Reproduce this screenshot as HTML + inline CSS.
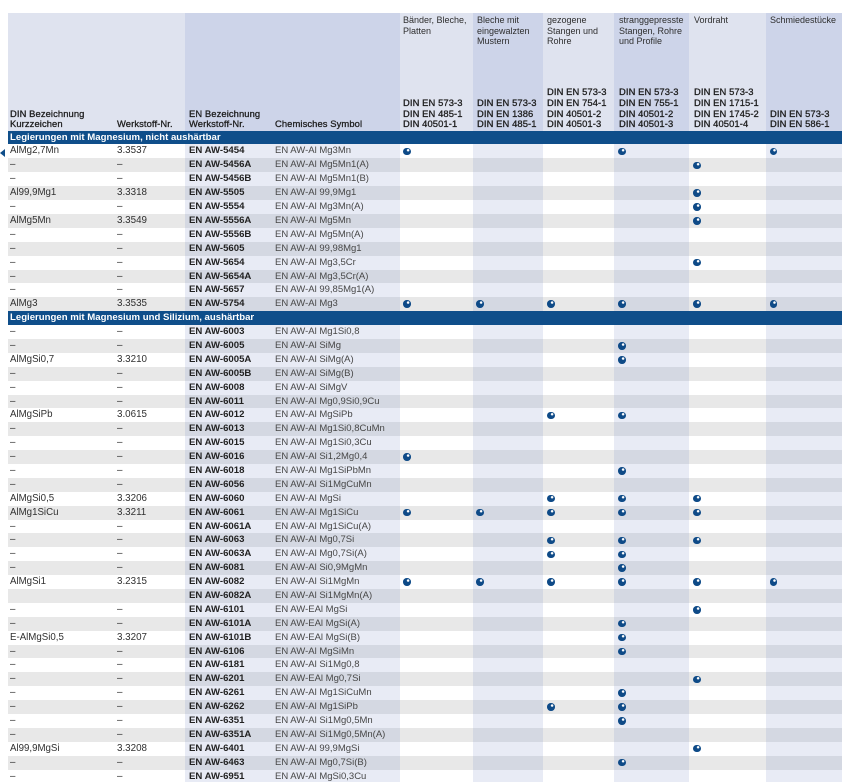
<!DOCTYPE html>
<html><head><meta charset="utf-8">
<style>
*{margin:0;padding:0;box-sizing:border-box}
html,body{width:853px;height:782px;overflow:hidden;background:#fff}
body{position:relative;font-family:"Liberation Sans",Arial,sans-serif;color:#333}
.hdr{position:absolute;left:8px;top:13px;width:834px;height:117.8px;
background:linear-gradient(to right,#dfe3ef 0 177px,#cdd4e9 177px 392px,#dfe3ef 392px 465px,#cdd4e9 465px 535px,#dfe3ef 535px 606px,#cdd4e9 606px 681px,#dfe3ef 681px 758px,#cdd4e9 758px)}
.hd{position:absolute;bottom:651.9px;font-size:9.4px;line-height:10.7px;color:#1e1e1e;-webkit-text-stroke:0.3px #1e1e1e;white-space:nowrap;letter-spacing:0.1px}
.ht{position:absolute;top:15px;font-size:9px;line-height:10.7px;color:#2e2e2e;white-space:nowrap}
.body{position:absolute;left:8px;top:130.8px;width:834px}
.s{height:13.9px;background:#0f4e8a;color:#fff;font-weight:bold;font-size:9.6px;line-height:13.9px;padding-left:2px;white-space:nowrap}
.s1{height:13.7px;line-height:13.7px}
.r{position:relative;height:13.9px}
.w{background:linear-gradient(to right,#fff 0 177px,#e8ebf5 177px 392px,#fff 392px 465px,#e8ebf5 465px 535px,#fff 535px 606px,#e8ebf5 606px 681px,#fff 681px 758px,#e8ebf5 758px)}
.g{background:linear-gradient(to right,#e8e8e8 0 177px,#d4d8e2 177px 392px,#e8e8e8 392px 465px,#d4d8e2 465px 535px,#e8e8e8 535px 606px,#d4d8e2 606px 681px,#e8e8e8 681px 758px,#d4d8e2 758px)}
.r i,.r b{position:absolute;top:0;line-height:13.9px;font-style:normal;white-space:nowrap}
.a{left:2px;font-size:9.7px;color:#303030}
.b{left:109px;font-size:9.8px;color:#303030}
.r b{left:181px;font-size:9.6px;color:#222;font-weight:bold}
.c{left:267px;font-size:9.5px;color:#474747}
.r u{position:absolute;top:3.2px;width:7.5px;height:7.5px;border-radius:50%;
background:radial-gradient(circle at 64% 32%,#ffffff 0 0.9px,#0e4a87 1.6px)}
.d1{left:395px}.d2{left:468.3px}.d3{left:539.3px}.d4{left:610.3px}.d5{left:685.3px}.d6{left:761.6px}
.arr{position:absolute;left:0;top:149px;width:0;height:0;border-right:5px solid #0f4e8a;border-top:4px solid transparent;border-bottom:4px solid transparent}
</style></head>
<body>
<div class="hdr"></div>
<div class="hd" style="left:10px">DIN Bezeichnung<br>Kurzzeichen</div>
<div class="hd" style="left:117px">Werkstoff-Nr.</div>
<div class="hd" style="left:189px">EN Bezeichnung<br>Werkstoff-Nr.</div>
<div class="hd" style="left:275px">Chemisches Symbol</div>

<div class="ht" style="left:403px">Bänder, Bleche,<br>Platten</div>
<div class="ht" style="left:477px">Bleche mit<br>eingewalzten<br>Mustern</div>
<div class="ht" style="left:547px">gezogene<br>Stangen und<br>Rohre</div>
<div class="ht" style="left:619px">stranggepresste<br>Stangen, Rohre<br>und Profile</div>
<div class="ht" style="left:694px">Vordraht</div>
<div class="ht" style="left:770px">Schmiedestücke</div>

<div class="hd" style="left:403px">DIN EN 573-3<br>DIN EN 485-1<br>DIN 40501-1</div>
<div class="hd" style="left:477px">DIN EN 573-3<br>DIN EN 1386<br>DIN EN 485-1</div>
<div class="hd" style="left:547px">DIN EN 573-3<br>DIN EN 754-1<br>DIN 40501-2<br>DIN 40501-3</div>
<div class="hd" style="left:619px">DIN EN 573-3<br>DIN EN 755-1<br>DIN 40501-2<br>DIN 40501-3</div>
<div class="hd" style="left:694px">DIN EN 573-3<br>DIN EN 1715-1<br>DIN EN 1745-2<br>DIN 40501-4</div>
<div class="hd" style="left:770px">DIN EN 573-3<br>DIN EN 586-1</div>

<div class="arr"></div>

<div class="body">
<div class="s s1">Legierungen mit Magnesium, nicht aushärtbar</div>
<div class="r w"><i class="a">AlMg2,7Mn</i><i class="b">3.3537</i><b>EN AW-5454</b><i class="c">EN AW-Al Mg3Mn</i><u class="d1"></u><u class="d4"></u><u class="d6"></u></div>
<div class="r g"><i class="a">–</i><i class="b">–</i><b>EN AW-5456A</b><i class="c">EN AW-Al Mg5Mn1(A)</i><u class="d5"></u></div>
<div class="r w"><i class="a">–</i><i class="b">–</i><b>EN AW-5456B</b><i class="c">EN AW-Al Mg5Mn1(B)</i></div>
<div class="r g"><i class="a">Al99,9Mg1</i><i class="b">3.3318</i><b>EN AW-5505</b><i class="c">EN AW-Al 99,9Mg1</i><u class="d5"></u></div>
<div class="r w"><i class="a">–</i><i class="b">–</i><b>EN AW-5554</b><i class="c">EN AW-Al Mg3Mn(A)</i><u class="d5"></u></div>
<div class="r g"><i class="a">AlMg5Mn</i><i class="b">3.3549</i><b>EN AW-5556A</b><i class="c">EN AW-Al Mg5Mn</i><u class="d5"></u></div>
<div class="r w"><i class="a">–</i><i class="b">–</i><b>EN AW-5556B</b><i class="c">EN AW-Al Mg5Mn(A)</i></div>
<div class="r g"><i class="a">–</i><i class="b">–</i><b>EN AW-5605</b><i class="c">EN AW-Al 99,98Mg1</i></div>
<div class="r w"><i class="a">–</i><i class="b">–</i><b>EN AW-5654</b><i class="c">EN AW-Al Mg3,5Cr</i><u class="d5"></u></div>
<div class="r g"><i class="a">–</i><i class="b">–</i><b>EN AW-5654A</b><i class="c">EN AW-Al Mg3,5Cr(A)</i></div>
<div class="r w"><i class="a">–</i><i class="b">–</i><b>EN AW-5657</b><i class="c">EN AW-Al 99,85Mg1(A)</i></div>
<div class="r g"><i class="a">AlMg3</i><i class="b">3.3535</i><b>EN AW-5754</b><i class="c">EN AW-Al Mg3</i><u class="d1"></u><u class="d2"></u><u class="d3"></u><u class="d4"></u><u class="d5"></u><u class="d6"></u></div>
<div class="s">Legierungen mit Magnesium und Silizium, aushärtbar</div>
<div class="r w"><i class="a">–</i><i class="b">–</i><b>EN AW-6003</b><i class="c">EN AW-Al Mg1Si0,8</i></div>
<div class="r g"><i class="a">–</i><i class="b">–</i><b>EN AW-6005</b><i class="c">EN AW-Al SiMg</i><u class="d4"></u></div>
<div class="r w"><i class="a">AlMgSi0,7</i><i class="b">3.3210</i><b>EN AW-6005A</b><i class="c">EN AW-Al SiMg(A)</i><u class="d4"></u></div>
<div class="r g"><i class="a">–</i><i class="b">–</i><b>EN AW-6005B</b><i class="c">EN AW-Al SiMg(B)</i></div>
<div class="r w"><i class="a">–</i><i class="b">–</i><b>EN AW-6008</b><i class="c">EN AW-Al SiMgV</i></div>
<div class="r g"><i class="a">–</i><i class="b">–</i><b>EN AW-6011</b><i class="c">EN AW-Al Mg0,9Si0,9Cu</i></div>
<div class="r w"><i class="a">AlMgSiPb</i><i class="b">3.0615</i><b>EN AW-6012</b><i class="c">EN AW-Al MgSiPb</i><u class="d3"></u><u class="d4"></u></div>
<div class="r g"><i class="a">–</i><i class="b">–</i><b>EN AW-6013</b><i class="c">EN AW-Al Mg1Si0,8CuMn</i></div>
<div class="r w"><i class="a">–</i><i class="b">–</i><b>EN AW-6015</b><i class="c">EN AW-Al Mg1Si0,3Cu</i></div>
<div class="r g"><i class="a">–</i><i class="b">–</i><b>EN AW-6016</b><i class="c">EN AW-Al Si1,2Mg0,4</i><u class="d1"></u></div>
<div class="r w"><i class="a">–</i><i class="b">–</i><b>EN AW-6018</b><i class="c">EN AW-Al Mg1SiPbMn</i><u class="d4"></u></div>
<div class="r g"><i class="a">–</i><i class="b">–</i><b>EN AW-6056</b><i class="c">EN AW-Al Si1MgCuMn</i></div>
<div class="r w"><i class="a">AlMgSi0,5</i><i class="b">3.3206</i><b>EN AW-6060</b><i class="c">EN AW-Al MgSi</i><u class="d3"></u><u class="d4"></u><u class="d5"></u></div>
<div class="r g"><i class="a">AlMg1SiCu</i><i class="b">3.3211</i><b>EN AW-6061</b><i class="c">EN AW-Al Mg1SiCu</i><u class="d1"></u><u class="d2"></u><u class="d3"></u><u class="d4"></u><u class="d5"></u></div>
<div class="r w"><i class="a">–</i><i class="b">–</i><b>EN AW-6061A</b><i class="c">EN AW-Al Mg1SiCu(A)</i></div>
<div class="r g"><i class="a">–</i><i class="b">–</i><b>EN AW-6063</b><i class="c">EN AW-Al Mg0,7Si</i><u class="d3"></u><u class="d4"></u><u class="d5"></u></div>
<div class="r w"><i class="a">–</i><i class="b">–</i><b>EN AW-6063A</b><i class="c">EN AW-Al Mg0,7Si(A)</i><u class="d3"></u><u class="d4"></u></div>
<div class="r g"><i class="a">–</i><i class="b">–</i><b>EN AW-6081</b><i class="c">EN AW-Al Si0,9MgMn</i><u class="d4"></u></div>
<div class="r w"><i class="a">AlMgSi1</i><i class="b">3.2315</i><b>EN AW-6082</b><i class="c">EN AW-Al Si1MgMn</i><u class="d1"></u><u class="d2"></u><u class="d3"></u><u class="d4"></u><u class="d5"></u><u class="d6"></u></div>
<div class="r g"><b>EN AW-6082A</b><i class="c">EN AW-Al Si1MgMn(A)</i></div>
<div class="r w"><i class="a">–</i><i class="b">–</i><b>EN AW-6101</b><i class="c">EN AW-EAl MgSi</i><u class="d5"></u></div>
<div class="r g"><i class="a">–</i><i class="b">–</i><b>EN AW-6101A</b><i class="c">EN AW-EAl MgSi(A)</i><u class="d4"></u></div>
<div class="r w"><i class="a">E-AlMgSi0,5</i><i class="b">3.3207</i><b>EN AW-6101B</b><i class="c">EN AW-EAl MgSi(B)</i><u class="d4"></u></div>
<div class="r g"><i class="a">–</i><i class="b">–</i><b>EN AW-6106</b><i class="c">EN AW-Al MgSiMn</i><u class="d4"></u></div>
<div class="r w"><i class="a">–</i><i class="b">–</i><b>EN AW-6181</b><i class="c">EN AW-Al Si1Mg0,8</i></div>
<div class="r g"><i class="a">–</i><i class="b">–</i><b>EN AW-6201</b><i class="c">EN AW-EAl Mg0,7Si</i><u class="d5"></u></div>
<div class="r w"><i class="a">–</i><i class="b">–</i><b>EN AW-6261</b><i class="c">EN AW-Al Mg1SiCuMn</i><u class="d4"></u></div>
<div class="r g"><i class="a">–</i><i class="b">–</i><b>EN AW-6262</b><i class="c">EN AW-Al Mg1SiPb</i><u class="d3"></u><u class="d4"></u></div>
<div class="r w"><i class="a">–</i><i class="b">–</i><b>EN AW-6351</b><i class="c">EN AW-Al Si1Mg0,5Mn</i><u class="d4"></u></div>
<div class="r g"><i class="a">–</i><i class="b">–</i><b>EN AW-6351A</b><i class="c">EN AW-Al Si1Mg0,5Mn(A)</i></div>
<div class="r w"><i class="a">Al99,9MgSi</i><i class="b">3.3208</i><b>EN AW-6401</b><i class="c">EN AW-Al 99,9MgSi</i><u class="d5"></u></div>
<div class="r g"><i class="a">–</i><i class="b">–</i><b>EN AW-6463</b><i class="c">EN AW-Al Mg0,7Si(B)</i><u class="d4"></u></div>
<div class="r w"><i class="a">–</i><i class="b">–</i><b>EN AW-6951</b><i class="c">EN AW-Al MgSi0,3Cu</i></div>
</div>
</body></html>
